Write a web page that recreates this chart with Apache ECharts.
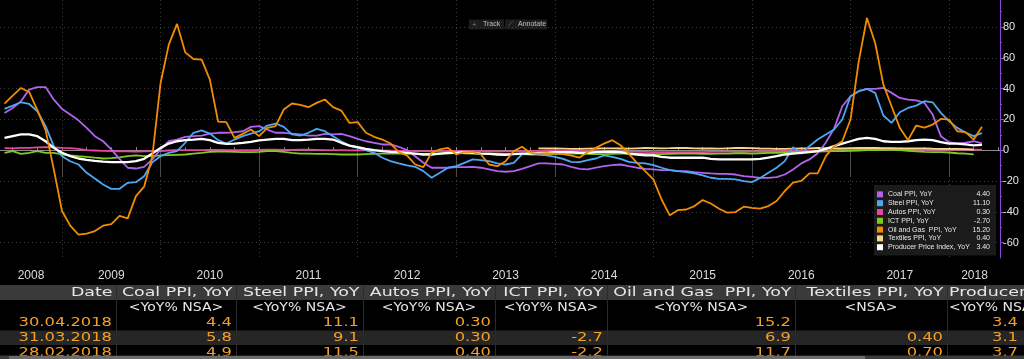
<!DOCTYPE html>
<html>
<head>
<meta charset="utf-8">
<script src="https://cdn.jsdelivr.net/npm/echarts@6/dist/echarts.min.js"></script>
<style>
html,body{margin:0;padding:0;background:#000;}
#chart{width:1024px;height:359px;}
</style>
</head>
<body>
<div id="chart"></div>
<script>
// ---------- DATA ----------
// Monthly observations, first one is end of May 2008, last one is end of April 2018
const firstMonth = '2008-05';

const coal = [
  24.2, 27.4, 31.8, 39.3, 41, 41, 32.8, 26.8, 23.1, 19.4,
  14.5, 9.1, 5.8, 0.5, -5.6, -11.4, -11.9, -10.8, -6, 0.5,
  5.8, 6.9, 8.7, 9.1, 9.5, 10.8, 11.3, 11.3, 11.7, 12.3,
  15.1, 15.6, 13.4, 11.3, 11.3, 10.8, 10.2, 9.5, 9.5, 10.6,
  10.2, 10.6, 9.1, 7.4, 5.8, 4.8, 3.7, 3.7, 2.2, 0,
  -3.9, -8.2, -11.4, -11.4, -11.4, -11, -11, -10.8, -11.4, -12.5,
  -13.6, -14, -13.6, -12.1, -10.4, -8.6, -8.6, -8.9, -9.3, -10.8,
  -12.1, -12.5, -11.4, -10.4, -9.7, -9.3, -10.4, -11.4, -12.1, -12.5,
  -13, -13, -13.6, -13.6, -14.3, -14.7, -15.1, -15.4, -15.4, -15.8,
  -16.9, -17.3, -18, -18, -17.5, -15.8, -12.5, -8.6, -6, -2,
  5, 14, 28.5, 35, 38.3, 39.8, 39.8, 40.4, 37.2, 33.9,
  32.8, 32.4, 30.7, 23.1, 9.1, 5.2, 4.3, 4.9, 5.8, 4.4
];
const steel = [
  26.8, 28.9, 31.1, 30, 25.3, 15.6, 2.6, -3.9, -7.2, -9.3,
  -14.7, -18.4, -22.3, -25.1, -25.1, -21.2, -20.8, -16.9, -7.8, -3.9,
  -1.7, -0.6, 4.8, 11.3, 12.8, 10.8, 6.5, 4.3, 6.9, 9.1,
  10.8, 12.3, 16, 17.3, 15.1, 10.2, 9.5, 11.3, 13.8, 12.3,
  9.1, 5.8, 3, 1.5, 0, -1.7, -4.9, -7.1, -8.6, -9.9,
  -10.8, -13.6, -17.9, -14.7, -11.4, -10.4, -8.2, -6, -6.5, -7.1,
  -8.6, -9.3, -8.2, -2.8, -1.7, -2.8, -3.4, -4.3, -5.6, -7.6,
  -7.8, -6.5, -5.4, -3.4, -4.3, -5.6, -7.6, -8.2, -8.6, -9.7,
  -11.4, -13, -13.6, -14.3, -15.1, -16.4, -17.9, -18.6, -18.6, -19,
  -20.1, -20.8, -18, -14.7, -11.4, -7.1, 2, -2.2, 2.6, 6.9,
  10.2, 13.4, 19.9, 35, 38.3, 39.8, 37.2, 22.5, 17.7, 24.6,
  27.4, 28.9, 31.8, 31.1, 24.2, 18.8, 14.5, 11.5, 9.1, 11.1
];
const autos = [
  1.3, 1.2, 1.5, 1.5, 1.8, 2, 1.8, 1.5, 1.3, 0.9,
  0, -0.2, -0.4, -0.6, -0.7, -0.8, -0.9, -0.8, -0.6, -0.6,
  -0.2, 0, 0, 0, 0, 0.2, 0.2, 0.1, 0.1, 0,
  0, 0.2, 0.3, 0.3, 0.2, 0.2, 0.3, 0.3, 0.2, 0.1,
  0, 0, -0.1, -0.1, 0, -0.2, -0.3, -0.3, -0.4, -0.5,
  -0.6, -0.6, -0.6, -0.6, -0.5, -0.6, -0.7, -0.6, -0.6, -0.7,
  -0.8, -0.8, -0.8, -0.7, -0.6, -0.5, -0.4, -0.5, -0.6, -0.6,
  -0.7, -0.8, -0.8, -0.9, -1, -1, -1, -1.1, -1.1, -1.2,
  -1.2, -1.2, -1.3, -1.3, -1.2, -1.2, -1.1, -1, -1, -1,
  -0.9, -0.9, -0.8, -0.8, -0.7, -0.6, -0.5, -0.4, -0.3, -0.2,
  0, 0.1, 0.3, 0.4, 0.5, 0.5, 0.4, 0.4, 0.3, 0.3,
  0.3, 0.3, 0.4, 0.4, 0.3, 0.3, 0.3, 0.4, 0.3, 0.3
];
const ict = [
  -1.7, -0.6, -2.4, -1.7, -0.6, -1.7, -1.7, -2.8, -3.4, -3.9,
  -4.3, -4.9, -5.4, -5.2, -4.7, -3.9, -3.4, -3.9, -3.9, -3.4,
  -3.2, -3, -2.8, -2.2, -1.7, -1.1, -0.9, -0.9, -1.1, -1.3,
  -1.3, -1.1, -0.6, -0.6, -1.1, -1.7, -2.2, -2.2, -2.4, -2.4,
  -2.6, -2.8, -2.8, -2.8, -2.6, -2.4, -2.2, -2.2, -2.2, -2.2,
  -2.4, -2.4, -2.2, -2.2, -2.2, -1.7, -2, -2.2, -2.2, -2.2,
  -2.2, -2.4, -2.4, -2.6, -2.8, -2.8, -2.6, -2.4, -2.4, -2.2,
  -2.2, -2.4, -2.6, -2.6, -2.4, -2.2, -2.2, -2.4, -2.4, -2.6,
  -2.6, -2.4, -2.2, -2.2, -2.2, -2.4, -2.4, -2.2, -2.2, -2,
  -2, -2.2, -2, -1.8, -1.7, -1.5, -1.3, -1.1, -1, -0.9,
  -0.8, -0.6, -0.6, -0.4, -0.2, 0, 0, 0.2, 0.2, 0,
  -0.4, -0.8, -1.1, -1.3, -1.3, -1.5, -2, -2.2, -2.7, null
];
const oilGas = [
  30.2, 35.4, 40.4, 37.8, 26, 13, -12.5, -39.5, -49, -54.8,
  -54.2, -52.5, -49, -48, -42.7, -44.3, -29.8, -23.7, -3.9, 43.6,
  68.5, 82, 63.5, 59.2, 58.8, 45.8, 18.6, 18.2, 8, 10.6,
  13.4, 9.1, 14.5, 15.6, 26.4, 30.3, 29.4, 27.9, 30.7, 32.9,
  27.9, 25.7, 17.7, 18.2, 11.3, 8.7, 6.9, 4.3, -1.3, -3.4,
  -9.3, -11, -1.7, 0.5, 1.5, -2.8, -1.3, -1.3, -2.8, -9.3,
  -10.4, -7.2, -0.6, 2.2, -1.7, -2.2, -2, -2.2, -2.5, -3.5,
  -4.8, -1.3, 1.5, 4.3, 6.5, 3.2, -2.2, -8.2, -13.6, -19,
  -32, -42.3, -38.9, -38.5, -36.3, -32.4, -34.6, -38, -40.6, -40.2,
  -36.7, -37.4, -38, -36.3, -33, -26.5, -21.1, -20, -15, -15,
  -3.9, 2.6, 5.8, 19.9, 57.7, 85.8, 69.6, 42.6, 28.5, 14.5,
  6.5, 16, 14.7, 16.6, 20.3, 19.9, 12.3, 11.7, 6.9, 15.2
];
// Textiles series only starts in October 2013 (65 months after the first month)
const textiles = [].concat(new Array(65).fill(null), [
  1.2, 1.1, 1.1, 1, 0.9, 0.9, 1, 1.1, 1.2, 1.2,
  1.1, 1, 1.2, 1.4, 1.3, 1.2, 1.3, 1.5, 1.4, 1.2,
  1.1, 1.1, 1, 1.2, 1.4, 1.5, 1.3, 1.1, 1, 0.9,
  0.9, 1, 1.1, 1.2, 1.4, 1.3, 1.2, 1.2, 1.3, 1.4,
  1.5, 1.4, 1.3, 1.3, 1.2, 1.1, 1.2, 1.2, 1, 0.9,
  0.8, 0.8, 0.7, 0.4, null
]);
const ppi = [
  8, 9.1, 10.2, 10.2, 9.1, 5.8, 1.5, -1.7, -3.9, -5.4,
  -6.3, -6.9, -7.4, -7.8, -7.8, -7.8, -7.1, -5.6, -2.2, 1.5,
  4.3, 5.8, 6.5, 6.9, 7.4, 6.5, 4.8, 4.1, 4.3, 4.8,
  5.4, 6.3, 6.9, 7.4, 7.4, 6.5, 6.5, 6.9, 7.4, 7.4,
  6.9, 4.8, 3, 2, 0.9, 0, -0.6, -1.1, -1.3, -1.7,
  -2.2, -2.8, -2.8, -2.2, -1.7, -1.7, -1.3, -1.7, -2.2, -2.4,
  -2.8, -3, -2.6, -2.2, -2.2, -1.7, -1.7, -1.3, -1.3, -1.3,
  -1.7, -1.7, -1.3, -1.1, -0.9, -1.3, -2.2, -2.8, -3.4, -3.4,
  -4.3, -4.9, -4.9, -4.9, -4.9, -4.9, -5.6, -6, -6, -6,
  -6, -6, -5.6, -4.9, -3.9, -2.8, -2.2, -1.7, -1.3, -0.6,
  0.9, 2.6, 4.3, 5.8, 7.4, 8, 7.4, 5.8, 5.4, 5.4,
  5.8, 6.5, 6.9, 6.5, 5.2, 4.3, 4.3, 3.7, 3.1, 3.4
];

const seriesNames = ['Coal PPI, YoY', 'Steel PPI, YoY', 'Autos PPI, YoY', 'ICT PPI, YoY',
  'Oil and Gas  PPI, YoY', 'Textiles PPI, YoY', 'Producer Price Index, YoY'];
const legendValues = ['4.40', '11.10', '0.30', '-2.70', '15.20', '0.40', '3.40'];
const years = [2008, 2009, 2010, 2011, 2012, 2013, 2014, 2015, 2016, 2017, 2018];
const yMajorTicks = [-60, -40, -20, 0, 20, 40, 60, 80];
const yMinorTicks = [-50, -30, -10, 10, 30, 50, 70, 90];

const tableHeaders = ['Date', 'Coal PPI, YoY', 'Steel PPI, YoY', 'Autos PPI, YoY', 'ICT PPI, YoY',
  'Oil and Gas  PPI, YoY', 'Textiles PPI, YoY', 'Producer Price Index, YoY'];
const tableUnits = ['', '<YoY% NSA>', '<YoY% NSA>', '<YoY% NSA>', '<YoY% NSA>', '<YoY% NSA>', '<NSA>', '<YoY% NSA>'];
const tableRows = [
  ['30.04.2018', '4.4', '11.1', '0.30', '', '15.2', '', '3.4'],
  ['31.03.2018', '5.8', '9.1', '0.30', '-2.7', '6.9', '0.40', '3.1'],
  ['28.02.2018', '4.9', '11.5', '0.40', '-2.2', '11.7', '0.70', '3.7']
];

// ---------- STYLE / LAYOUT ----------
const colors = ['#b263ee', '#4ea7f2', '#e8459c', '#7fcb1c', '#f28c00', '#f7d58a', '#ffffff'];
const seriesData = [coal, steel, autos, ict, oilGas, textiles, ppi];
const drawOrder = [2, 3, 5, 0, 1, 6, 4];
const X_MIN = 4.45, X_MAX = 126.2;   // visible month range (months since Jan 2008)
const Y_MIN = -70, Y_MAX = 97.5;

const [fy, fm] = firstMonth.split('-').map(Number);
const monthPos = i => (fy - 2008) * 12 + fm + i;   // end-of-month position

const yearBoundaries = years.slice(1).map(y => (y - 2008) * 12);
const yearLabelPos = years.map(y => {
  const s = Math.max(X_MIN, (y - 2008) * 12), e = Math.min(X_MAX, (y - 2007) * 12);
  return (s + e) / 2;
});
const quarterTicks = [];
for (let v = 6; v <= X_MAX; v += 3) quarterTicks.push(v);

const chart = echarts.init(document.getElementById('chart'), null, { renderer: 'canvas' });

const series = drawOrder.map(idx => ({
  name: seriesNames[idx],
  type: 'line',
  xAxisIndex: 0,
  yAxisIndex: 0,
  data: seriesData[idx].map((v, i) => [monthPos(i), v]),
  showSymbol: false,
  symbol: 'none',
  connectNulls: false,
  color: colors[idx],
  lineStyle: { color: colors[idx], width: idx === 6 ? 2.3 : 1.8 },
  emphasis: { disabled: true },
  animation: false,
  clip: true
}));

// table graphics
const colRights = [116, 236, 363, 495, 607, 795, 947, 1021];
const FONT = '"DejaVu Sans"';
const g = [];
g.push({ type: 'rect', shape: { x: 0, y: 285, width: 1024, height: 15 }, style: { fill: '#3a3a3a' }, silent: true });
g.push({ type: 'rect', shape: { x: 0, y: 330.5, width: 1024, height: 14.5 }, style: { fill: '#262626' }, silent: true });
colRights.slice(0, 7).forEach(x => {
  g.push({ type: 'line', shape: { x1: x + 0.5, y1: 285, x2: x + 0.5, y2: 356 }, style: { stroke: '#2b2b2b', lineWidth: 1 }, silent: true });
});
function txt(text, x, y, align, color, sx) {
  return { type: 'text', x: x, y: y, scaleX: sx, silent: true,
    style: { text: text, fill: color, fontSize: 12, fontFamily: FONT, align: align, verticalAlign: 'middle' } };
}
tableHeaders.forEach((h, c) => {
  if (c === 7) g.push(txt(h, colRights[6] + 2, 292.5, 'left', '#e6e6e6', 1.45));
  else g.push(txt(h, colRights[c] - 3.5, 292.5, 'right', '#e6e6e6', 1.45));
});
tableUnits.forEach((u, c) => {
  if (!u) return;
  if (c === 7) g.push(txt(u, colRights[6] + 2, 307.5, 'left', '#e6e6e6', 1.17));
  else g.push(txt(u, (colRights[c - 1] + colRights[c]) / 2, 307.5, 'center', '#e6e6e6', 1.17));
});
tableRows.forEach((row, r) => {
  const y = 322.5 + r * 15;
  row.forEach((v, c) => {
    if (!v) return;
    g.push(txt(v, c === 7 ? 1018 : colRights[c] - 4, y, 'right', '#f39f2a', 1.36));
  });
});
// bottom scroll bar
g.push({ type: 'rect', shape: { x: 0, y: 355.5, width: 1024, height: 4 }, style: { fill: '#3c3c3c' }, silent: true });
g.push({ type: 'rect', shape: { x: 9, y: 356, width: 856, height: 3 }, style: { fill: '#6a6a6a' }, silent: true });
// Track / Annotate buttons
g.push({ type: 'rect', shape: { x: 469, y: 19.5, width: 35, height: 10 }, style: { fill: '#1d1d1d' }, silent: true });
g.push({ type: 'rect', shape: { x: 505, y: 19.5, width: 42, height: 10 }, style: { fill: '#1d1d1d' }, silent: true });
g.push({ type: 'text', x: 472, y: 24.5, silent: true, style: { text: '+', fill: '#7a7a7a', fontSize: 8, fontFamily: 'Liberation Sans', verticalAlign: 'middle' } });
g.push({ type: 'text', x: 483, y: 24.5, silent: true, style: { text: 'Track', fill: '#b8c0c8', fontSize: 7, fontFamily: 'Liberation Sans', verticalAlign: 'middle' } });
g.push({ type: 'text', x: 508, y: 24.5, silent: true, style: { text: '⟋', fill: '#7a7a7a', fontSize: 7, fontFamily: 'DejaVu Sans', verticalAlign: 'middle' } });
g.push({ type: 'text', x: 518, y: 24.5, silent: true, style: { text: 'Annotate', fill: '#b8c0c8', fontSize: 7, fontFamily: 'Liberation Sans', verticalAlign: 'middle' } });

const option = {
  backgroundColor: '#000000',
  animation: false,
  grid: { left: 0, right: 24, top: 0, bottom: 101, containLabel: false, outerBoundsMode: 'none' },
  xAxis: [
    {
      type: 'value', position: 'bottom', min: X_MIN, max: X_MAX,
      axisLine: { show: true, lineStyle: { color: '#8c8c8c', width: 1 } },
      axisTick: { show: true, inside: true, length: 3, customValues: quarterTicks, lineStyle: { color: '#8c8c8c' } },
      axisLabel: { show: false },
      splitLine: { show: false }
    },
    {
      type: 'value', position: 'bottom', min: X_MIN, max: X_MAX,
      axisLine: { show: false },
      axisTick: { show: true, inside: false, length: 27, customValues: yearBoundaries, lineStyle: { color: '#4a4a4a' } },
      axisLabel: {
        show: true, customValues: yearLabelPos, margin: 12,
        formatter: v => String(2008 + Math.floor(v / 12)),
        color: '#dcdcdc', fontSize: 12, fontFamily: 'Liberation Sans'
      },
      splitLine: { show: true, lineStyle: { color: '#3c3c3c', type: [1, 3], width: 1 } }
    }
  ],
  yAxis: [
    {
      type: 'value', position: 'right', min: Y_MIN, max: Y_MAX,
      axisLine: { show: true, lineStyle: { color: '#8d48d8', width: 1 } },
      axisTick: { show: true, inside: false, length: 4, customValues: yMajorTicks, lineStyle: { color: '#8d48d8' } },
      axisLabel: { show: true, customValues: yMajorTicks, margin: 3, color: '#e6e6e6', fontSize: 11, fontFamily: 'Liberation Sans' },
      splitLine: { show: true, lineStyle: { color: '#3c3c3c', type: [1, 3], width: 1 } }
    },
    {
      type: 'value', position: 'right', min: Y_MIN, max: Y_MAX,
      axisLine: { show: false },
      axisTick: { show: true, inside: false, length: 2, customValues: yMinorTicks, lineStyle: { color: '#8d48d8' } },
      axisLabel: { show: false },
      splitLine: { show: false }
    }
  ],
  legend: {
    show: true, orient: 'vertical', left: 874, top: 185,
    backgroundColor: '#1b1b1b', padding: [5, 6, 4, 3], itemGap: 0,
    itemWidth: 6, itemHeight: 6, icon: 'rect', selectedMode: false,
    data: seriesNames.map((n, i) => ({ name: n, icon: 'rect', itemStyle: { color: colors[i] } })),
    formatter: name => '{n|' + name + '}{v|' + legendValues[seriesNames.indexOf(name)] + '}',
    textStyle: {
      color: '#e8e8e8', fontSize: 7, fontFamily: 'Liberation Sans', lineHeight: 8.8,
      rich: {
        n: { width: 86, fontSize: 7, color: '#e8e8e8', fontFamily: 'Liberation Sans', lineHeight: 8.8 },
        v: { width: 16, align: 'right', fontSize: 7, color: '#e8e8e8', fontFamily: 'Liberation Sans', lineHeight: 8.8 }
      }
    }
  },
  tooltip: { show: false },
  graphic: g,
  series: series
};
chart.setOption(option);
</script>
</body>
</html>
